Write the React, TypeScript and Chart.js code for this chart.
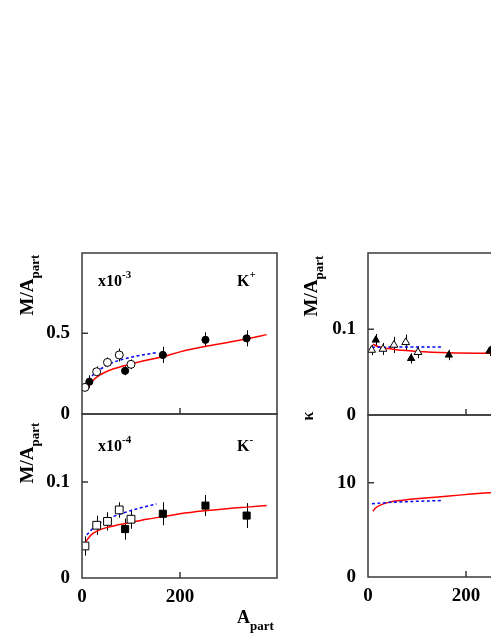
import React, { useEffect, useRef } from "react";
import { Chart, registerables } from "chart.js";

Chart.register(...registerables);

const FONT = "'Liberation Serif', 'Times New Roman', serif";

// ---- axes ----
const X_MAX = 398;
const X_TICKS = [0, 200];
const Y_TICKS_KP = [0, 0.5];
const Y_TICKS_KM = [0, 0.1];
const Y_TICKS_RATIO = [0, 0.1];
const Y_TICKS_KAPPA = [0, 10];
const Y_MAX_KP = 0.998;
const Y_MAX_KM = 0.171;
const Y_MAX_RATIO = 0.189;
const Y_MAX_KAPPA = 17.2;

// ---- K+ panel (x10^-3) ----
const KP_OPEN_X = [6, 30, 52, 76, 100];
const KP_OPEN_Y = [0.165, 0.262, 0.32, 0.366, 0.308];
const KP_OPEN_E = [0.02, 0.033, 0.03, 0.04, 0.03];
const KP_FILL_X = [15, 88, 165, 252, 336];
const KP_FILL_Y = [0.2, 0.268, 0.366, 0.46, 0.469];
const KP_FILL_E = [0.04, 0.028, 0.05, 0.046, 0.05];
const KP_RED_X = [9.6, 15, 25, 37, 55, 84, 120, 166, 200, 250, 300, 340, 377];
const KP_RED_Y = [0.149, 0.18, 0.215, 0.242, 0.27, 0.297, 0.325, 0.356, 0.385, 0.418, 0.445, 0.468, 0.492];
const KP_BLUE_X = [13, 25, 37, 64, 105, 152];
const KP_BLUE_Y = [0.21, 0.25, 0.277, 0.32, 0.355, 0.38];

// ---- K- panel (x10^-4) ----
const KM_OPEN_X = [6, 30, 52, 76, 100];
const KM_OPEN_Y = [0.0334, 0.055, 0.059, 0.071, 0.0613];
const KM_OPEN_E = [0.01, 0.01, 0.0095, 0.008, 0.01];
const KM_FILL_X = [88, 165, 252, 336];
const KM_FILL_Y = [0.051, 0.067, 0.0755, 0.0651];
const KM_FILL_E = [0.011, 0.012, 0.011, 0.013];
const KM_RED_X = [6, 12, 23, 40, 64, 100, 132, 166, 200, 250, 300, 336, 377];
const KM_RED_Y = [0.0363, 0.041, 0.0467, 0.051, 0.0543, 0.058, 0.0613, 0.064, 0.0669, 0.07, 0.0725, 0.0739, 0.0755];
const KM_BLUE_X = [9.6, 30, 64, 112, 152];
const KM_BLUE_Y = [0.045, 0.0554, 0.064, 0.0721, 0.0773];

// ---- ratio panel (top right) ----
const R_OPEN_X = [7.5, 30.5, 53, 77, 102];
const R_OPEN_Y = [0.0758, 0.077, 0.0817, 0.0848, 0.0732];
const R_OPEN_E = [0.006, 0.007, 0.0095, 0.009, 0.007];
const R_FILL_X = [16, 88, 165, 248, 336];
const R_FILL_Y = [0.0875, 0.066, 0.07, 0.0747, 0.072];
const R_FILL_E = [0.007, 0.006, 0.006, 0.006, 0.006];
const R_RED_X = [10, 20, 40, 70, 100, 166, 248, 320, 377];
const R_RED_Y = [0.0825, 0.08, 0.0775, 0.0755, 0.0742, 0.0727, 0.072, 0.0715, 0.071];
const R_BLUE_X = [8, 40, 80, 120, 152];
const R_BLUE_Y = [0.079, 0.0792, 0.0793, 0.0794, 0.0794];

// ---- kappa panel (bottom right) ----
const KA_RED_X = [10, 15, 24, 44, 70, 98, 130, 166, 210, 248, 300, 377];
const KA_RED_Y = [6.99, 7.3, 7.6, 7.95, 8.15, 8.3, 8.45, 8.6, 8.8, 8.95, 9.15, 9.4];
const KA_BLUE_X = [8, 40, 80, 120, 152];
const KA_BLUE_Y = [7.77, 7.9, 8.0, 8.07, 8.12];

const zip = (xs: number[], ys: number[]) => xs.map((x, i) => ({ x, y: ys[i] }));

type Marker = { xs: number[]; ys: number[]; es: number[]; style: string; filled: boolean; r: number };
type PanelProps = {
  left: number;
  top: number;
  areaH: number;
  showX: boolean;
  yMax: number;
  yTicks: number[];
  markers: Marker[];
  red: [number[], number[]];
  blue: [number[], number[]];
};

const PAD = 30;
const Y_AXIS_W = 82;
const AREA_W = 195;
const X_AXIS_H = 40;

function Panel(p: PanelProps) {
  const ref = useRef<HTMLCanvasElement | null>(null);
  const width = Y_AXIS_W + AREA_W + PAD;
  const height = PAD + p.areaH + (p.showX ? X_AXIS_H + 10 : PAD);

  useEffect(() => {
    if (!ref.current) return;
    const tickFont = { family: FONT, size: 19, weight: "bold" as const };
    const framePlugin = {
      id: "frame",
      beforeDatasetsDraw(chart: any) {
        const ctx = chart.ctx;
        const xs = chart.scales.x;
        const ys = chart.scales.y;
        ctx.save();
        ctx.strokeStyle = "#000";
        ctx.lineWidth = 1;
        p.markers.forEach((m) => {
          m.xs.forEach((x, i) => {
            const px = Math.round(xs.getPixelForValue(x)) + 0.5;
            ctx.beginPath();
            ctx.moveTo(px, ys.getPixelForValue(m.ys[i] - m.es[i]));
            ctx.lineTo(px, ys.getPixelForValue(m.ys[i] + m.es[i]));
            ctx.stroke();
          });
        });
        ctx.restore();
      },
      afterDraw(chart: any) {
        const ctx = chart.ctx;
        const a = chart.chartArea;
        const xs = chart.scales.x;
        const ys = chart.scales.y;
        ctx.save();
        ctx.strokeStyle = "#3a3a3a";
        ctx.lineWidth = 1.5;
        ctx.strokeRect(a.left, a.top, a.right - a.left, a.bottom - a.top);
        ctx.beginPath();
        X_TICKS.forEach((v) => {
          if (v === 0) return;
          const px = xs.getPixelForValue(v);
          ctx.moveTo(px, a.bottom);
          ctx.lineTo(px, a.bottom - 6);
        });
        p.yTicks.forEach((v) => {
          if (v === 0) return;
          const py = ys.getPixelForValue(v);
          ctx.moveTo(a.left, py);
          ctx.lineTo(a.left + 6, py);
        });
        ctx.stroke();
        ctx.restore();
      },
    };

    const datasets: any[] = [];
    p.markers.forEach((m) => {
      datasets.push({
        data: zip(m.xs, m.ys),
        pointStyle: m.style,
        pointRadius: m.r,
        backgroundColor: m.filled ? "#000" : "#fff",
        borderColor: "#000",
        borderWidth: 1,
        showLine: false,
      });
    });
    datasets.push({
      data: zip(p.blue[0], p.blue[1]),
      showLine: true,
      pointRadius: 0,
      borderColor: "#0000ff",
      borderWidth: 1.5,
      borderDash: [3, 2.5],
      cubicInterpolationMode: "monotone",
    });
    datasets.push({
      data: zip(p.red[0], p.red[1]),
      showLine: true,
      pointRadius: 0,
      borderColor: "#ff0000",
      borderWidth: 1.5,
      cubicInterpolationMode: "monotone",
    });

    const chart = new Chart(ref.current, {
      type: "scatter",
      data: { datasets },
      plugins: [framePlugin],
      options: {
        responsive: false,
        animation: false,
        devicePixelRatio: 1,
        layout: { padding: { left: 0, top: PAD, right: PAD, bottom: p.showX ? 10 : PAD } },
        plugins: { legend: { display: false }, tooltip: { enabled: false } },
        scales: {
          x: {
            type: "linear",
            position: "bottom",
            min: 0,
            max: X_MAX,
            display: p.showX,
            afterBuildTicks: (s: any) => {
              s.ticks = X_TICKS.map((v) => ({ value: v }));
            },
            afterFit: (s: any) => {
              s.height = p.showX ? X_AXIS_H : 0;
            },
            grid: { display: false, drawTicks: false },
            border: { display: false },
            ticks: { padding: 8, color: "#000", font: tickFont, maxRotation: 0, autoSkip: false },
          },
          y: {
            type: "linear",
            min: 0,
            max: p.yMax,
            afterBuildTicks: (s: any) => {
              s.ticks = p.yTicks.map((v) => ({ value: v }));
            },
            afterFit: (s: any) => {
              s.width = Y_AXIS_W;
            },
            grid: { display: false, drawTicks: false },
            border: { display: false },
            ticks: { padding: 12, color: "#000", font: tickFont, autoSkip: false },
          },
        },
      } as any,
    });
    return () => chart.destroy();
  }, []);

  return (
    <canvas
      ref={ref}
      width={width}
      height={height}
      style={{ position: "absolute", left: p.left, top: p.top - PAD, width, height }}
    />
  );
}

function YTitle({ cx, cy }: { cx: number; cy: number }) {
  return (
    <div
      style={{
        position: "absolute",
        left: cx,
        top: cy,
        transform: "translate(-50%, -50%) rotate(-90deg)",
        fontWeight: "bold",
        fontSize: 19,
        lineHeight: "19px",
        whiteSpace: "nowrap",
      }}
    >
      M/A<span style={{ fontSize: 13, position: "relative", top: 6 }}>part</span>
    </div>
  );
}

function Note({ left, top, main, sup }: { left: number; top: number; main: string; sup: string }) {
  return (
    <div
      style={{
        position: "absolute",
        left,
        top,
        fontWeight: "bold",
        fontSize: 16,
        lineHeight: "16px",
        whiteSpace: "nowrap",
      }}
    >
      {main}
      <span style={{ fontSize: 11, position: "relative", top: -8 }}>{sup}</span>
    </div>
  );
}

export default function App() {
  return (
    <div
      style={{
        position: "absolute",
        left: 0,
        top: 0,
        width: 491,
        height: 635,
        overflow: "hidden",
        background: "#fff",
        fontFamily: FONT,
        color: "#000",
      }}
    >
      <Panel
        left={0}
        top={253}
        areaH={161}
        showX={false}
        yMax={Y_MAX_KP}
        yTicks={Y_TICKS_KP}
        markers={[
          { xs: KP_OPEN_X, ys: KP_OPEN_Y, es: KP_OPEN_E, style: "circle", filled: false, r: 4 },
          { xs: KP_FILL_X, ys: KP_FILL_Y, es: KP_FILL_E, style: "circle", filled: true, r: 3.6 },
        ]}
        red={[KP_RED_X, KP_RED_Y]}
        blue={[KP_BLUE_X, KP_BLUE_Y]}
      />
      <Panel
        left={0}
        top={414}
        areaH={164}
        showX={true}
        yMax={Y_MAX_KM}
        yTicks={Y_TICKS_KM}
        markers={[
          { xs: KM_OPEN_X, ys: KM_OPEN_Y, es: KM_OPEN_E, style: "rect", filled: false, r: 5.5 },
          { xs: KM_FILL_X, ys: KM_FILL_Y, es: KM_FILL_E, style: "rect", filled: true, r: 5 },
        ]}
        red={[KM_RED_X, KM_RED_Y]}
        blue={[KM_BLUE_X, KM_BLUE_Y]}
      />
      <Panel
        left={286}
        top={253}
        areaH={162}
        showX={false}
        yMax={Y_MAX_RATIO}
        yTicks={Y_TICKS_RATIO}
        markers={[
          { xs: R_OPEN_X, ys: R_OPEN_Y, es: R_OPEN_E, style: "triangle", filled: false, r: 4.5 },
          { xs: R_FILL_X, ys: R_FILL_Y, es: R_FILL_E, style: "triangle", filled: true, r: 4.2 },
        ]}
        red={[R_RED_X, R_RED_Y]}
        blue={[R_BLUE_X, R_BLUE_Y]}
      />
      <Panel
        left={286}
        top={415}
        areaH={162}
        showX={true}
        yMax={Y_MAX_KAPPA}
        yTicks={Y_TICKS_KAPPA}
        markers={[]}
        red={[KA_RED_X, KA_RED_Y]}
        blue={[KA_BLUE_X, KA_BLUE_Y]}
      />

      <YTitle cx={27} cy={285} />
      <YTitle cx={27} cy={453} />
      <YTitle cx={311} cy={286} />
      <div
        style={{
          position: "absolute",
          left: 308,
          top: 416,
          transform: "translate(-50%, -50%) rotate(-90deg)",
          fontWeight: "bold",
          fontSize: 16,
          lineHeight: "16px",
        }}
      >
        κ
      </div>

      <Note left={98} top={273} main="x10" sup="-3" />
      <Note left={237} top={273} main="K" sup="+" />
      <Note left={98} top={438} main="x10" sup="-4" />
      <Note left={237} top={438} main="K" sup="-" />

      <div
        style={{
          position: "absolute",
          left: 237,
          top: 608,
          fontWeight: "bold",
          fontSize: 18,
          lineHeight: "18px",
          whiteSpace: "nowrap",
        }}
      >
        A<span style={{ fontSize: 13, position: "relative", top: 7 }}>part</span>
      </div>
    </div>
  );
}
